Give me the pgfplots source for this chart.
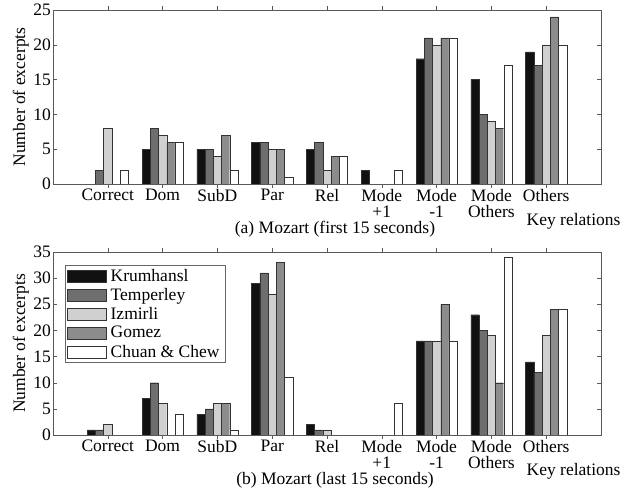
\documentclass[border=0pt]{standalone}
\usepackage{pgfplots}
\pgfplotsset{compat=1.18}
\usepackage{fontspec}
\setmainfont{Liberation Serif}
\definecolor{cK}{HTML}{111111}
\definecolor{cT}{HTML}{6E6E6E}
\definecolor{cI}{HTML}{D0D0D0}
\definecolor{cG}{HTML}{8C8C8C}
\definecolor{cC}{HTML}{FFFFFF}
\definecolor{edge}{HTML}{333333}
\newcommand{\fs}{\fontsize{17.5bp}{16bp}\selectfont}
\pgfplotsset{
  keychart/.style={
    scale only axis,
    width=548bp,
    xmin=0, xmax=10,
    ymin=0,
    xtick={1,...,9},
    xticklabels={Correct,Dom,SubD,Par,Rel,{Mode\\+1},{Mode\\-1},{Mode\\Others},Others},
    xticklabel style={align=center, font=\fs, inner sep=1bp},
    yticklabel style={font=\fs, inner sep=2bp},
    ylabel style={font=\fs, yshift=-1bp},
    ylabel={Number of excerpts},
    tick align=inside,
    major tick length=4bp,
    axis line style={black!65},
    every tick/.style={black!65},
    ybar,
    bar width=0.15,
    /pgf/number format/assume math mode=true,
    legend style={font=\fs, draw=black!60, at={(0.022,0.93)}, anchor=north west, inner sep=2bp, row sep=1.5bp, cells={anchor=west}, nodes={inner xsep=4bp}},
    legend image code/.code={\draw[#1] (0bp,-6bp) rectangle (39bp,6bp);},
  },
  pK/.style={fill=cK, draw=edge, bar shift=-0.3},
  pT/.style={fill=cT, draw=edge, bar shift=-0.15},
  pI/.style={fill=cI, draw=edge, bar shift=0},
  pG/.style={fill=cG, draw=edge, bar shift=0.15},
  pC/.style={fill=cC, draw=edge, bar shift=0.3},
}
\begin{document}
\begin{tikzpicture}
\useasboundingbox (0,0) rectangle (626bp,492bp);
% (a) first 15 seconds
\begin{axis}[keychart, at={(53bp,308bp)}, anchor=south west, height=174bp, ymax=25, ytick={0,5,...,25}]
\addplot[pK] coordinates {(2,5) (3,5) (4,6) (5,5) (6,2) (7,18) (8,15) (9,19)};
\addplot[pT] coordinates {(1,2) (2,8) (3,5) (4,6) (5,6) (7,21) (8,10) (9,17)};
\addplot[pI] coordinates {(1,8) (2,7) (3,4) (4,5) (5,2) (7,20) (8,9) (9,20)};
\addplot[pG] coordinates {(2,6) (3,7) (4,5) (5,4) (7,21) (8,8) (9,24)};
\addplot[pC] coordinates {(1,2) (2,6) (3,2) (4,1) (5,4) (6,2) (7,21) (8,17) (9,20)};
\end{axis}
% (b) last 15 seconds
\begin{axis}[keychart, at={(53bp,57bp)}, anchor=south west, height=183bp, ymax=35, ytick={0,5,...,35}]
\addplot[pK] coordinates {(1,1) (2,7) (3,4) (4,29) (5,2) (7,18) (8,23) (9,14)};
\addplot[pT] coordinates {(1,1) (2,10) (3,5) (4,31) (5,1) (7,18) (8,20) (9,12)};
\addplot[pI] coordinates {(1,2) (2,6) (3,6) (4,27) (5,1) (7,18) (8,19) (9,19)};
\addplot[pG] coordinates {(3,6) (4,33) (7,25) (8,10) (9,24)};
\addplot[pC] coordinates {(2,4) (3,1) (4,11) (6,6) (7,18) (8,34) (9,24)};
\legend{Krumhansl,Temperley,Izmirli,Gomez,Chuan \& Chew}
\end{axis}
\node[font=\fs] at (335bp,263bp) {(a) Mozart (first 15 seconds)};
\node[font=\fs, anchor=east] at (624bp,271bp) {Key relations};
\node[font=\fs] at (335bp,12bp) {(b) Mozart (last 15 seconds)};
\node[font=\fs, anchor=east] at (624bp,21bp) {Key relations};
\end{tikzpicture}
\end{document}
